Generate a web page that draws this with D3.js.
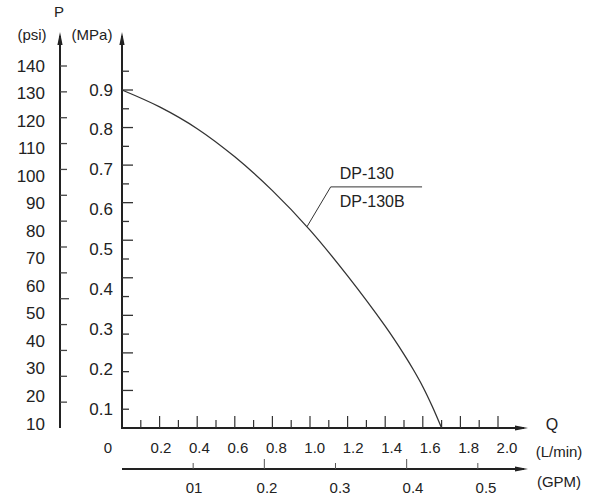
<!DOCTYPE html>
<html>
<head>
<meta charset="utf-8">
<script src="https://cdn.jsdelivr.net/npm/d3@7"></script>
<style>
  html, body { margin: 0; padding: 0; background: #fff; }
  svg { display: block; }
  text { font-family: "Liberation Sans", Arial, sans-serif; fill: #222; }
</style>
</head>
<body>
<svg id="chart" width="600" height="495"></svg>
<script>
// ---- data ----
const flowLpm      = [0, 0.2, 0.4, 0.6, 0.8, 1.0, 1.2, 1.4, 1.5, 1.55, 1.6, 1.65, 1.70];
const pressureMPa  = [0.900, 0.855, 0.797, 0.722, 0.632, 0.527, 0.405, 0.271, 0.196, 0.155, 0.110, 0.058, 0];
const psiLabels    = [140, 130, 120, 110, 100, 90, 80, 70, 60, 50, 40, 30, 20, 10];
const mpaLabels    = [0.9, 0.8, 0.7, 0.6, 0.5, 0.4, 0.3, 0.2, 0.1];
const mpaTicks     = [0.05, 0.1, 0.15, 0.2, 0.25, 0.3, 0.35, 0.4, 0.45, 0.5, 0.55, 0.6, 0.65, 0.7, 0.75, 0.8, 0.85, 0.9, 0.95];
const lpmLabels    = [0.2, 0.4, 0.6, 0.8, 1.0, 1.2, 1.4, 1.6, 1.8, 2.0];
const lpmTicks     = [0.1, 0.2, 0.3, 0.4, 0.5, 0.6, 0.7, 0.8, 0.9, 1.0, 1.1, 1.2, 1.3, 1.4, 1.5, 1.6, 1.7, 1.8, 1.9, 2.0];
const gpmValues    = [0.1, 0.2, 0.3, 0.4, 0.5];
const gpmLabels    = ["01", "0.2", "0.3", "0.4", "0.5"];
const seriesNames  = ["DP-130", "DP-130B"];
const leaderQ      = [0.984, 1.11, 1.596];
const leaderP      = [0.536, 0.642, 0.642];
const LPM_PER_GPM  = 3.7854;

const svg = d3.select("#chart");
const ink = "#222";

// ---- scales ----
const x = d3.scaleLinear().domain([0, 2.0]).range([122, 498]);
const y = d3.scaleLinear().domain([0, 0.9]).range([428, 90]);
const yPsi = d3.scaleLinear().domain([0, 140]).range([428, 66]);
// label placement scales (the printed labels drift from their ticks in the original)
const yPsiLabel = d3.scaleLinear().domain([10, 140]).range([424, 66]);
const yMpaLabel = d3.scaleLinear().domain([0.1, 0.9]).range([409, 90]);
const xLpmLabel = d3.scaleLinear().domain([0.2, 2.0]).range([161, 507]);
const xGpmLabel = d3.scaleLinear().domain([0.1, 0.5]).range([194, 486]);

const x0 = x(0), yBase = y(0), psiX = 60, gpmY = 469, tipY = 32, tipX = 528;

function arrowUp(cx) {
  svg.append("path").attr("d", `M${cx-2.6},${tipY+13}L${cx},${tipY}L${cx+2.6},${tipY+13}Z`).attr("fill", ink);
}
function arrowRight(cy) {
  svg.append("path").attr("d", `M${tipX-13},${cy-2.6}L${tipX},${cy}L${tipX-13},${cy+2.6}Z`).attr("fill", ink);
}

// ---- psi axis ----
svg.append("line").attr("x1", psiX).attr("x2", psiX).attr("y1", yBase).attr("y2", tipY + 4)
  .attr("stroke", ink).attr("stroke-width", 2);
arrowUp(psiX);
svg.append("g").selectAll("line").data(psiLabels).join("line")
  .attr("x1", psiX).attr("x2", d => psiX + (d === 50 ? 9 : 7))
  .attr("y1", d => yPsi(d)).attr("y2", d => yPsi(d))
  .attr("stroke", "#444").attr("stroke-width", 1.3);
svg.append("g").selectAll("text").data(psiLabels).join("text")
  .attr("x", 45).attr("y", d => yPsiLabel(d)).attr("text-anchor", "end")
  .attr("dominant-baseline", "central").attr("font-size", 17).text(d => d);

// ---- MPa axis ----
svg.append("line").attr("x1", x0).attr("x2", x0).attr("y1", yBase + 1).attr("y2", tipY + 4)
  .attr("stroke", ink).attr("stroke-width", 2);
arrowUp(x0);
svg.append("g").selectAll("line").data(mpaTicks).join("line")
  .attr("x1", x0).attr("x2", d => x0 + (Math.round(d * 100) % 10 === 0 ? 11 : 7))
  .attr("y1", d => y(d)).attr("y2", d => y(d))
  .attr("stroke", "#333").attr("stroke-width", 1.3);
svg.append("g").selectAll("text").data(mpaLabels).join("text")
  .attr("x", 113).attr("y", d => yMpaLabel(d)).attr("text-anchor", "end")
  .attr("dominant-baseline", "central").attr("font-size", 17).text(d => d3.format(".1f")(d));

// ---- header labels ----
svg.append("text").attr("x", 59).attr("y", 11).attr("text-anchor", "middle")
  .attr("dominant-baseline", "central").attr("font-size", 15).text("P");
svg.append("text").attr("x", 32).attr("y", 34).attr("text-anchor", "middle")
  .attr("dominant-baseline", "central").attr("font-size", 15).text("(psi)");
svg.append("text").attr("x", 92).attr("y", 34).attr("text-anchor", "middle")
  .attr("dominant-baseline", "central").attr("font-size", 15).text("(MPa)");

// ---- L/min axis ----
svg.append("line").attr("x1", x0 - 1).attr("x2", tipX - 4).attr("y1", yBase).attr("y2", yBase)
  .attr("stroke", ink).attr("stroke-width", 2);
arrowRight(yBase);
svg.append("g").selectAll("line").data(lpmTicks).join("line")
  .attr("x1", d => x(d)).attr("x2", d => x(d))
  .attr("y1", yBase).attr("y2", d => yBase - (Math.round(d * 10) % 2 === 0 ? 12 : 8))
  .attr("stroke", "#333").attr("stroke-width", 1.2);
svg.append("g").selectAll("text").data(lpmLabels).join("text")
  .attr("x", d => xLpmLabel(d)).attr("y", 447).attr("text-anchor", "middle")
  .attr("dominant-baseline", "central").attr("font-size", 15).attr("fill", "#333")
  .text(d => d3.format(".1f")(d));
svg.append("text").attr("x", 108).attr("y", 447).attr("text-anchor", "middle")
  .attr("dominant-baseline", "central").attr("font-size", 15).text("0");
svg.append("text").attr("x", 552).attr("y", 424).attr("text-anchor", "middle")
  .attr("dominant-baseline", "central").attr("font-size", 16).text("Q");
svg.append("text").attr("x", 559).attr("y", 451).attr("text-anchor", "middle")
  .attr("dominant-baseline", "central").attr("font-size", 15).text("(L/min)");

// ---- GPM axis ----
svg.append("line").attr("x1", x0).attr("x2", tipX - 4).attr("y1", gpmY).attr("y2", gpmY)
  .attr("stroke", ink).attr("stroke-width", 2);
arrowRight(gpmY);
svg.append("g").selectAll("line").data(gpmValues).join("line")
  .attr("x1", d => x(d * LPM_PER_GPM)).attr("x2", d => x(d * LPM_PER_GPM))
  .attr("y1", gpmY).attr("y2", (d, i) => gpmY - (i % 2 === 1 ? 10 : 6))
  .attr("stroke", "#555").attr("stroke-width", 1);
svg.append("g").selectAll("text").data(gpmValues).join("text")
  .attr("x", d => xGpmLabel(d)).attr("y", 487).attr("text-anchor", "middle")
  .attr("dominant-baseline", "central").attr("font-size", 15).attr("fill", "#333")
  .text((d, i) => gpmLabels[i]);
svg.append("text").attr("x", 559).attr("y", 481).attr("text-anchor", "middle")
  .attr("dominant-baseline", "central").attr("font-size", 15).text("(GPM)");

// ---- curve ----
const pts = flowLpm.map((q, i) => [q, pressureMPa[i]]);
svg.append("path").datum(pts)
  .attr("d", d3.line().x(d => x(d[0])).y(d => y(d[1])).curve(d3.curveCatmullRom))
  .attr("fill", "none").attr("stroke", "#333").attr("stroke-width", 1.3);

// ---- leader and series names ----
const lead = leaderQ.map((q, i) => [q, leaderP[i]]);
svg.append("path").datum(lead)
  .attr("d", d3.line().x(d => x(d[0])).y(d => y(d[1])))
  .attr("fill", "none").attr("stroke", "#333").attr("stroke-width", 1);
svg.append("g").selectAll("text").data(seriesNames).join("text")
  .attr("x", x(leaderQ[1]) + 9)
  .attr("y", (d, i) => y(leaderP[1]) + (i === 0 ? -13 : 15))
  .attr("dominant-baseline", "central").attr("font-size", 16).text(d => d);
</script>
</body>
</html>
